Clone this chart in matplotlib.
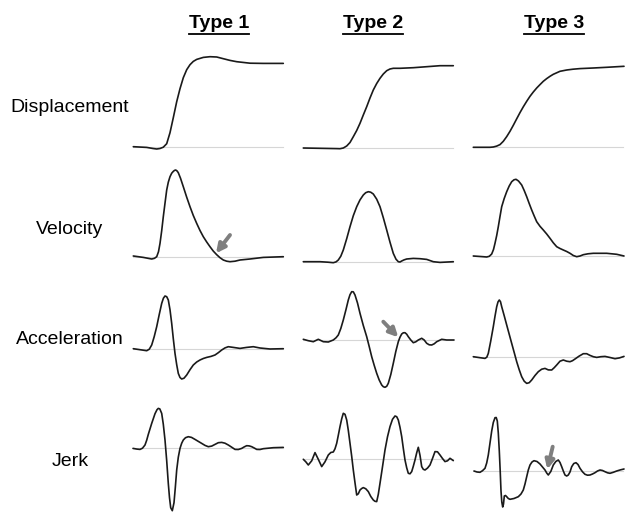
import numpy as np
import matplotlib
matplotlib.use('Agg')
import matplotlib.pyplot as plt
from matplotlib.lines import Line2D

plt.rcParams['font.family'] = ['Liberation Sans', 'DejaVu Sans']

# column headers / row labels
types = ['Type 1', 'Type 2', 'Type 3']
rows = ['Displacement', 'Velocity', 'Acceleration', 'Jerk']

# traces: t = sample position, y = amplitude (baseline = 0)
disp1_t = [0.3, 13.7, 20, 23.7, 27, 30.3, 33.7, 37, 40.3, 43.7, 47, 50.3, 53.7, 57, 60.3, 63.7, 70.3, 77, 83.7, 90.3, 97, 103.7, 117, 130.3, 150.3]
disp1_y = [0, -0.7, -1.8, -2.3, -1.8, -0.5, 3, 14, 29, 45, 58, 69, 77, 82, 85.3, 87.3, 89.3, 90, 89.7, 88, 86.3, 85, 83.5, 83.3, 83.3]
disp2_t = [0.3, 17, 33.7, 37, 40.3, 43.7, 47, 50.3, 53.7, 57, 60.3, 63.7, 67, 70.3, 73.7, 77, 80.3, 83.7, 87, 90.3, 97, 110.3, 123.7, 137, 150.3]
disp2_y = [0, -0.3, -0.6, -0.7, 0, 2, 5.5, 11.3, 17.5, 24.7, 33, 41.3, 50, 58, 64.5, 69.7, 74, 77.3, 79, 79.7, 79.7, 80.3, 81.3, 82.3, 82.3]
disp3_t = [0.3, 17, 20.3, 23.7, 27, 30.3, 33.7, 37, 40.3, 43.7, 47, 50.3, 53.7, 57, 60.3, 63.7, 67, 70.3, 73.7, 77, 80.3, 87, 93.7, 100, 107, 120.3, 133.7, 151]
disp3_y = [0, 0, 0.3, 1.2, 2.7, 6, 10.7, 16, 22, 28.5, 34.7, 40.5, 46, 51, 55.3, 59.3, 62.7, 66, 68.7, 71, 73, 76, 77.3, 78.1, 78.7, 79.3, 80, 81]

vel1_t = [0.3, 10.3, 15, 18.7, 21.5, 23.7, 25.5, 27, 28.7, 30.3, 32, 33.7, 35.3, 37, 38.7, 40.3, 41.5, 42.7, 44, 45.3, 47.5, 50.3, 53.7, 57, 60.3, 63.7, 67, 70.3, 73.7, 77, 80.3, 83.7, 87, 90.3, 93.7, 97, 102, 107, 117, 130.3, 150.3]
vel1_y = [0.7, -0.7, -1.6, -2.3, -1.6, 0, 5, 13.3, 26, 40, 53.5, 66.7, 74.5, 80, 83.5, 85.3, 86.3, 86.7, 85.8, 84, 78.5, 70, 59.5, 50, 41.2, 33.3, 26.2, 20, 14.7, 10, 5.6, 2, -1, -3.3, -4.5, -5, -4.5, -3.3, -2.3, -0.7, 0]
vel2_t = [0.3, 17, 25, 30.3, 33, 35.3, 37.8, 40.3, 43.7, 47, 50.3, 53.7, 57, 60.3, 62.7, 65.3, 67.7, 70.3, 73.7, 77, 80.3, 83.7, 87, 90.3, 93, 95.3, 97, 98.7, 101, 103.7, 110.3, 117, 123.7, 130.3, 137, 150.3]
vel2_y = [0, 0, -0.5, -1, -0.2, 1.7, 5.5, 11.7, 23, 35, 46, 55, 61.8, 66.7, 69, 70, 69.5, 67.7, 62.5, 55, 44, 31.7, 19.5, 8.3, 2.5, 0, -0.3, 0.7, 1.8, 2.7, 3.3, 3, 2.3, 0, -0.7, 0]
vel3_t = [0.3, 10, 13.7, 16.3, 18.7, 20.5, 22, 23.7, 25.3, 27, 28.7, 31.2, 33.7, 36.2, 38.7, 41, 43, 45.5, 48.7, 51.2, 53.7, 56.2, 58.7, 61.2, 63.7, 67, 70.3, 73.7, 77, 80.3, 83.7, 87, 90.3, 93.7, 97, 100.3, 103.7, 107, 110.3, 115, 120.3, 133.7, 143.7, 151]
vel3_y = [0, -0.7, -1, -0.3, 2, 6.5, 12.7, 20.5, 29.3, 39.5, 49.3, 57.5, 64.3, 70, 74.3, 76.2, 76.7, 75, 71, 65.5, 59.3, 52.5, 46, 40, 34.3, 29.7, 26, 22, 17.7, 13.2, 9.3, 7.5, 6, 4.5, 2.7, 0.5, -0.7, 0, 1.3, 2.2, 2.7, 2.7, 1.7, 0]

acc1_t = [0.3, 7, 13.7, 16.3, 18.7, 21.2, 23.7, 26.2, 28.7, 30.4, 32, 33.7, 35.3, 37, 38.7, 40.3, 42, 43.7, 45.3, 47, 48.7, 51, 53.7, 57, 60.3, 63.7, 67, 70.3, 73.7, 78, 82, 85.3, 88.7, 92, 95.3, 100.3, 107, 113.7, 120.3, 127, 137, 150.3]
acc1_y = [0, -1, -2, -0.5, 3.7, 12, 22, 34, 45.3, 50.5, 52.7, 52, 48.7, 39, 25.3, 10, -4.7, -16, -24.7, -28.8, -30.3, -29.5, -26.3, -21, -16.3, -13.3, -11.3, -9.8, -8.7, -7.7, -6.3, -4, -1.3, 0.8, 2, 1.3, 0.3, 1.3, 2, 0.7, -0.3, 0]
acc2_t = [0.3, 5.3, 10.3, 15.3, 20.3, 25.3, 30.3, 33, 35.3, 37.8, 40.3, 43, 45.3, 47, 48.7, 50.3, 52, 54.5, 57, 60.3, 63.7, 66.2, 68.7, 71.2, 73.7, 76.2, 78.7, 80.3, 82, 83.7, 85.3, 87.8, 90.3, 92.8, 95.3, 97, 98.7, 100.3, 102, 103.7, 105.3, 107.8, 110.3, 112.8, 115.3, 118.7, 121.2, 123.7, 126.2, 128.7, 131.2, 133.7, 138.7, 143.7, 151]
acc2_y = [0.7, -0.7, -1.7, 0.7, -1.7, -2, 0, 2.2, 5, 11.5, 20, 30.5, 40, 45.3, 48.3, 48.2, 45, 37, 26.7, 14.5, 3.3, -6.5, -16.7, -25.3, -33.3, -40, -45, -46.7, -47.3, -46.3, -43.3, -34.5, -23.3, -11.5, -1.7, 2.8, 6, 7.2, 7.3, 5.8, 3.3, 0, -2.7, -1.8, 0, 1.7, 0, -3.3, -4.8, -5, -3.8, -1.7, 0.7, 0, 0]
acc3_t = [0.3, 7, 12, 13.8, 15.3, 17.7, 20.3, 22, 23.7, 25, 26.3, 27.5, 28.7, 31.2, 33.7, 36.2, 38.7, 41.2, 43.7, 46.2, 48.7, 51.2, 53.7, 56.2, 58.7, 62, 65.3, 68.7, 72, 75.3, 78.7, 81.2, 83.7, 87, 90.3, 93.7, 97, 99.5, 102, 106, 110.3, 113.7, 117, 120.3, 123.7, 127.8, 132, 137, 142, 146.5, 151]
acc3_y = [0, -1, -1.7, -0.5, 3.3, 15.5, 30, 40.5, 50, 54.8, 56.7, 55, 50, 41, 31.7, 22.5, 13.3, 4.2, -5, -13, -20, -24.5, -26.7, -26, -23.3, -18.8, -15, -12.5, -11.7, -13.2, -13.3, -11, -8.3, -4.5, -3.3, -4.5, -5, -4, -2.3, 0.5, 3, 3, 1.3, 0, -0.7, 0, 0.3, -0.8, -2, -1.2, 0.3]

jerk1_t = [0, 4, 7, 9.5, 12, 13.7, 15.3, 18.7, 22, 24, 25.3, 26.8, 28.7, 30.3, 32, 33.7, 35.3, 36.5, 37.7, 39.3, 41, 42.3, 43.7, 45.3, 47, 48.7, 50.3, 52.5, 55.3, 58.5, 62, 65.5, 68.7, 72, 75.3, 78.7, 82, 85.3, 88.7, 92, 95.3, 98.7, 102, 105.3, 108.7, 111.2, 113.7, 116.2, 118.7, 121.2, 123.7, 127, 130.3, 140.3, 150.3]
jerk1_y = [-0.7, -1.4, -1.7, -0.5, 2.7, 7.5, 13.3, 24.3, 34, 38, 39.3, 38.8, 34.3, 23.5, 7.7, -13, -35.7, -50, -60, -63, -55, -40, -22.3, -9.5, -0.7, 4.5, 7.7, 10, 11, 10.3, 8.3, 6.2, 4.3, 2.3, 1, 1.6, 3.3, 5, 5.3, 4.5, 2.7, 0.5, -1.7, -1.8, -0.7, 0.8, 2, 1.8, 1, -0.3, -1.7, -1.8, -1, 0, 0.3]
jerk2_t = [0.3, 2.8, 5.3, 8.7, 12, 15.3, 18.7, 22, 25.3, 27.8, 30.3, 32, 33.7, 35.3, 37, 38.7, 40.3, 42, 43.7, 45.3, 47, 48.7, 50.3, 52, 53.7, 55.3, 57, 58.7, 60.3, 62.8, 65.3, 67.8, 70.3, 72, 73.7, 75.3, 77, 79.5, 82, 84.5, 87, 89.5, 92, 93.7, 95.3, 97, 98.7, 100.3, 102, 103.7, 105.3, 107, 108.7, 110.3, 112, 113.7, 115.3, 117, 118.7, 120.3, 122, 124.5, 127, 129.5, 132, 134.5, 137, 139.5, 142, 144.5, 147, 150.3]
jerk2_y = [0, -2.5, -5.7, -1.5, 6.7, 0, -7.3, -2.5, 4.3, 6.8, 7.3, 10.5, 16, 24, 32.7, 40.5, 46, 45, 39.3, 29, 16, 3, -10.7, -23.5, -35.7, -34.5, -30.7, -29.2, -28.3, -29.5, -32.3, -37.2, -40.7, -42, -42.3, -35, -24, -7.5, 9.3, 22.5, 32.7, 40, 43.3, 42.6, 39.3, 32, 22.7, 11, -0.7, -8.5, -14, -14.5, -12.3, -7, -0.7, 6.5, 12, 4, -7.3, -10, -10.7, -8.8, -5.7, 0.8, 7.7, 7.5, 4.3, 0.8, -2.3, -1.5, 1, -1.3]
jerk3_t = [1, 4, 7, 9.5, 12, 13.7, 15.3, 17, 18.7, 20.3, 22, 23.2, 24.3, 25.3, 26.3, 27.2, 28, 28.8, 29.7, 30.5, 31.3, 32.5, 33.7, 35.3, 37, 41, 45.3, 48, 50.3, 52, 53.7, 55.3, 57, 59, 61, 64, 67, 69.5, 72, 73.7, 75.3, 77.8, 80.3, 82.8, 85.3, 87, 88.7, 90.3, 92, 93.7, 95.3, 97, 98.7, 100.8, 103, 105, 107, 109.5, 112, 114.5, 117, 119.5, 122, 124.5, 127, 129.5, 132, 134.5, 137, 140.3, 143.7, 147.3, 151]
jerk3_y = [0, -1, -1.3, 0.3, 2.7, 8, 16, 28, 40, 48.5, 53.3, 53.5, 50, 38, 20, 0, -20, -31, -36, -33, -25, -24.5, -25.7, -27.5, -28.3, -27.5, -25.7, -23, -19, -13, -5.7, 1, 6, 9, 10.3, 9.5, 7, 4, 1, -2, -4, -0.5, 6, 9.5, 11, 8.5, 4.3, 0, -4, -5, -4, -1, 4.3, 7.5, 8.3, 6.5, 2.7, -0.8, -3.3, -4.2, -4, -3, -1.7, 0, 1, 0.5, -0.7, -1.8, -2.3, -1.3, 0, 1.1, 2]

traces = [
    [(disp1_t, disp1_y), (disp2_t, disp2_y), (disp3_t, disp3_y)],
    [(vel1_t, vel1_y), (vel2_t, vel2_y), (vel3_t, vel3_y)],
    [(acc1_t, acc1_y), (acc2_t, acc2_y), (acc3_t, acc3_y)],
    [(jerk1_t, jerk1_y), (jerk2_t, jerk2_y), (jerk3_t, jerk3_y)],
]

# arrows: (row, col, tail, head) in trace coordinates
arrows = [
    (1, 0, (97, 21.7), (83, 3.4)),
    (2, 1, (80.3, 18.3), (95.3, 2.7)),
    (3, 2, (79.7, 24.3), (74.3, 1.7)),
]

W, H = 628, 512
fig = plt.figure(figsize=(W / 100, H / 100), dpi=100)

col_left = [133, 303, 473]
baselines = [[146.7, 148, 147.3],
             [256.7, 261.7, 256],
             [348.7, 340, 356.7],
             [447.7, 459.3, 471]]
half = 100  # half height of each panel box (px)
width = 152

axes = {}
for r in range(4):
    for c in range(3):
        y0 = baselines[r][c]
        ax = fig.add_axes([col_left[c] / W, 1 - (y0 + half) / H, width / W, 2 * half / H])
        ax.set_xlim(0, width)
        ax.set_ylim(-half, half)
        ax.axis('off')
        ax.patch.set_alpha(0)
        ax.axhline(0, xmin=0, xmax=150 / width, color='#d6d6d6', lw=0.8, zorder=1)
        t, y = traces[r][c]
        ax.plot(t, y, color='#1a1a1a', lw=1.2, solid_joinstyle='round',
                solid_capstyle='round', antialiased=True, clip_on=False, zorder=2)
        axes[(r, c)] = ax

for r, c, tail, head in arrows:
    axes[(r, c)].annotate('', xy=head, xytext=tail,
                          arrowprops=dict(arrowstyle='-|>', color='#7f7f7f', lw=2.8,
                                          mutation_scale=13, shrinkA=0, shrinkB=0))

# row labels
row_y = [108, 230, 340, 462]
for name, y in zip(rows, row_y):
    fig.text(70 / W, 1 - y / H, name, ha='center', va='center', fontsize=14)

# headers, underlined
head_x = [219, 373, 554]
fig.canvas.draw()
renderer = fig.canvas.get_renderer()
for name, x in zip(types, head_x):
    txt = fig.text(x / W, 1 - 24 / H, name, ha='center', va='center', fontsize=14, fontweight='bold')
    bb = txt.get_window_extent(renderer)
    yl = (bb.y0 - 1.5) / H
    fig.add_artist(Line2D([bb.x0 / W, bb.x1 / W], [yl, yl], color='black', lw=1.3))

fig.savefig('out.png', dpi=100)
